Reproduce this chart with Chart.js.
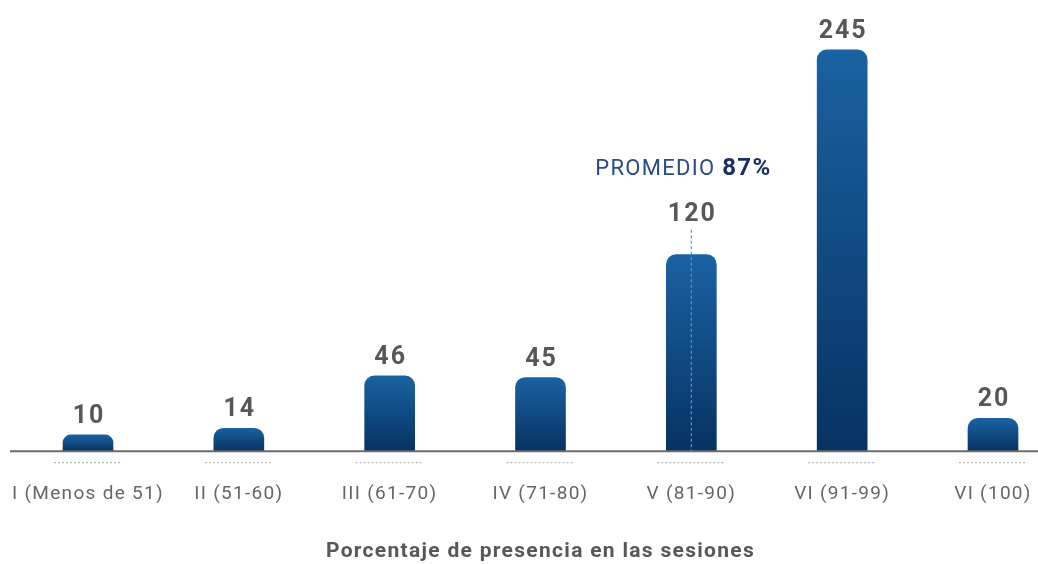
<!DOCTYPE html>
<html>
<head>
<meta charset="utf-8">
<script src="https://cdn.jsdelivr.net/npm/chart.js@4.4.1/dist/chart.umd.min.js"></script>
<style>
  html,body{margin:0;padding:0;background:#fff;}
  #wrap{width:1038px;height:564px;position:relative;}
</style>
</head>
<body>
<div id="wrap"><canvas id="chart"></canvas></div>
<script>
// Data
const categories = ['I (Menos de 51)','II (51-60)','III (61-70)','IV (71-80)','V (81-90)','VI (91-99)','VI (100)'];
const sessions = [10, 14, 46, 45, 120, 245, 20];
const axisTitle = 'Porcentaje de presencia en las sesiones';
const averageLabel = 'PROMEDIO';
const averageValue = '87%';
const averageIndex = 4; // group that holds the average

const FONT = 'Roboto, "DejaVu Sans", sans-serif';
const GREY = '#575757';

// vertical gradient per bar, from its top down to the baseline
function barGradient(c){
  const chart = c.chart;
  const y = chart.scales.y;
  if(!y || c.raw == null) return '#0d4a86';
  const top = y.getPixelForValue(c.raw);
  const base = y.getPixelForValue(0);
  if(!isFinite(top) || !isFinite(base) || top === base) return '#0d4a86';
  const g = chart.ctx.createLinearGradient(0, top, 0, base);
  g.addColorStop(0, '#1a62a1');
  g.addColorStop(1, '#073263');
  return g;
}

// baseline across the page and dotted marks under every group
const baselinePlugin = {
  id:'baseline',
  afterDatasetsDraw(chart){
    const ctx = chart.ctx, y0 = chart.scales.y.getPixelForValue(0);
    ctx.save();
    ctx.strokeStyle = '#6b6b6b'; ctx.lineWidth = 2;
    ctx.beginPath(); ctx.moveTo(10, y0); ctx.lineTo(chart.width, y0); ctx.stroke();
    ctx.strokeStyle = '#a8a8a8'; ctx.lineWidth = 1; ctx.setLineDash([2,2]);
    chart.getDatasetMeta(0).data.forEach(bar=>{
      ctx.beginPath(); ctx.moveTo(bar.x-34, y0+11.5); ctx.lineTo(bar.x+34, y0+11.5); ctx.stroke();
    });
    ctx.restore();
  }
};

// value above each bar (the average bar's value sits higher to leave room for the marker)
const valueLabels = {
  id:'valueLabels',
  afterDatasetsDraw(chart){
    const ctx = chart.ctx;
    ctx.save();
    ctx.font = 'bold 25px '+FONT; ctx.fillStyle = GREY;
    ctx.textAlign = 'center'; ctx.textBaseline = 'alphabetic';
    ctx.letterSpacing = '2px';
    chart.getDatasetMeta(0).data.forEach((bar,i)=>{
      const gap = i === averageIndex ? 34 : 12;
      ctx.fillText(String(sessions[i]), bar.x+1, bar.y-gap);
    });
    ctx.restore();
  }
};

// dotted marker and caption for the average
const averageMarker = {
  id:'averageMarker',
  afterDatasetsDraw(chart){
    const ctx = chart.ctx;
    const bar = chart.getDatasetMeta(0).data[averageIndex];
    const y0 = chart.scales.y.getPixelForValue(0);
    ctx.save();
    ctx.strokeStyle = '#3fa3e0'; ctx.lineWidth = 1.2; ctx.setLineDash([3,2.5]);
    ctx.beginPath(); ctx.moveTo(bar.x, bar.y-25); ctx.lineTo(bar.x, y0); ctx.stroke();
    ctx.setLineDash([]);
    ctx.letterSpacing = '1.3px';
    ctx.textBaseline = 'alphabetic'; ctx.textAlign = 'left';
    ctx.font = '22px '+FONT;
    const w1 = ctx.measureText(averageLabel+' ').width;
    ctx.font = 'bold 24px '+FONT;
    const w2 = ctx.measureText(averageValue).width;
    const x = bar.x - 8 - (w1+w2)/2, ty = bar.y - 80;
    ctx.font = '22px '+FONT; ctx.fillStyle = '#2c4a86';
    ctx.fillText(averageLabel+' ', x, ty);
    ctx.font = 'bold 24px '+FONT; ctx.fillStyle = '#1b2e6a';
    ctx.fillText(averageValue, x+w1, ty);
    ctx.restore();
  }
};

// spaced lettering for the axis text as well
const spacing = { id:'spacing', beforeDraw(chart){ chart.ctx.letterSpacing = '1.3px'; } };

new Chart(document.getElementById('chart'), {
  type:'bar',
  data:{
    labels:categories,
    datasets:[{
      data:sessions,
      backgroundColor:barGradient,
      borderRadius:{topLeft:10, topRight:10, bottomLeft:0, bottomRight:0},
      borderSkipped:'bottom',
      barThickness:50,
      clip:false
    }]
  },
  options:{
    responsive:true,
    maintainAspectRatio:false,
    animation:false,
    layout:{padding:{left:88, right:45, top:9, bottom:0}},
    plugins:{legend:{display:false}, tooltip:{enabled:false}},
    scales:{
      x:{
        offset:false,
        afterFit(scale){ scale.paddingLeft = 0; scale.paddingRight = 0; },
        grid:{display:false, drawTicks:false},
        border:{display:false},
        ticks:{color:'#666', padding:32, maxRotation:0, autoSkip:false, font:{family:FONT, size:19}},
        title:{display:true, text:axisTitle, color:GREY, padding:{top:0.8, bottom:0}, font:{family:FONT, size:21, weight:'bold'}}
      },
      y:{display:false, min:0, max:270}
    }
  },
  plugins:[spacing, baselinePlugin, valueLabels, averageMarker]
});
</script>
</body>
</html>
